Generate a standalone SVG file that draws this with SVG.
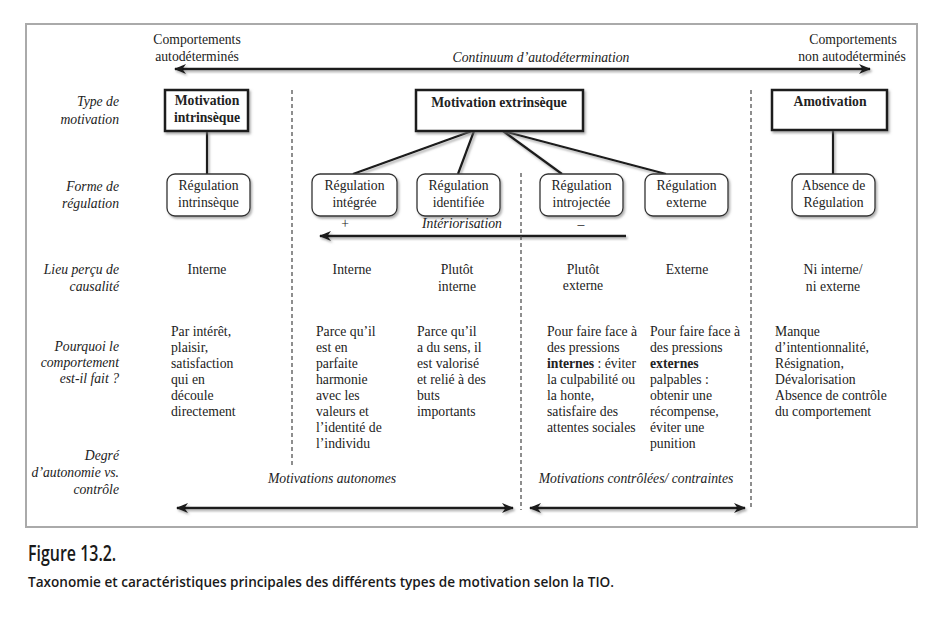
<svg xmlns="http://www.w3.org/2000/svg" width="945" height="617" viewBox="0 0 945 617">
<defs>
<style>
text{font-family:"Liberation Serif","Times New Roman",serif;font-size:13.7px;fill:#222}
.c{text-anchor:middle}
.r{text-anchor:end}
.i{font-style:italic}
.b{font-weight:bold}
.bx{fill:#fff;stroke:#1a1a1a;stroke-width:2.5}
.rb{fill:#fff;stroke:#333;stroke-width:1.3}
.ln{stroke:#1a1a1a;stroke-width:2.2;fill:none}
.ar{stroke:#1a1a1a;stroke-width:2.4;fill:none}
.ds{stroke:#444;stroke-width:1.2;stroke-dasharray:4 3;fill:none}
.cap{font-family:"Open Sans","Liberation Sans",sans-serif;fill:#1a1a1a;font-weight:600}
.fig{font-size:21px}
.sub{font-size:14px}
</style>
<filter id="sh" x="-10%" y="-10%" width="130%" height="140%">
<feDropShadow dx="1.5" dy="2" stdDeviation="1.2" flood-color="#777" flood-opacity="0.6"/>
</filter>
<marker id="ah" viewBox="0 0 12 10" markerWidth="13" markerHeight="10" refX="11" refY="5" orient="auto-start-reverse" markerUnits="userSpaceOnUse">
<path d="M0,0 L12,5 L0,10 L3.5,5 Z" fill="#1a1a1a"/>
</marker>
</defs>
<rect width="945" height="617" fill="#fff"/>
<rect x="26" y="24" width="891" height="503" fill="#fff" stroke="#aaa" stroke-width="2"/>

<g id="header">
<text class="c" x="197" y="44">Comportements</text>
<text class="c" x="197" y="61">autodéterminés</text>
<text class="c" x="853" y="44">Comportements</text>
<text class="c" x="852" y="61">non autodéterminés</text>
<text class="c i" x="541" y="62">Continuum d’autodétermination</text>
</g>

<g id="row-labels">
<text class="r i" x="119" y="106">Type de</text>
<text class="r i" x="119" y="124">motivation</text>
<text class="r i" x="119" y="191">Forme de</text>
<text class="r i" x="119" y="208">régulation</text>
<text class="r i" x="119" y="274">Lieu perçu de</text>
<text class="r i" x="119" y="291">causalité</text>
<text class="r i" x="119" y="351">Pourquoi le</text>
<text class="r i" x="119" y="367">comportement</text>
<text class="r i" x="119" y="383">est-il fait ?</text>
<text class="r i" x="119" y="460">Degré</text>
<text class="r i" x="119" y="477">d’autonomie vs.</text>
<text class="r i" x="119" y="494">contrôle</text>
</g>

<g id="connectors">
<g filter="url(#sh)">
<line class="ar" x1="175" y1="69" x2="870" y2="69" marker-start="url(#ah)" marker-end="url(#ah)"/>
<line class="ln" x1="207" y1="131" x2="207" y2="174" stroke-width="2.5"/>
<line class="ln" x1="833" y1="130" x2="833" y2="174" stroke-width="2.5"/>
<line class="ln" x1="472" y1="131" x2="353" y2="174"/>
<line class="ln" x1="474" y1="131" x2="458" y2="174"/>
<line class="ln" x1="503" y1="131" x2="562" y2="174"/>
<line class="ln" x1="503" y1="131" x2="666" y2="174"/>
<line class="ar" x1="626" y1="236" x2="320" y2="236" marker-end="url(#ah)"/>
<line class="ar" x1="177" y1="508" x2="513" y2="508" marker-start="url(#ah)" marker-end="url(#ah)"/>
<line class="ar" x1="530" y1="508" x2="745" y2="508" marker-start="url(#ah)" marker-end="url(#ah)"/>
</g>
<line class="ds" x1="292" y1="90" x2="292" y2="468" stroke="#666" stroke-width="1.6" stroke-dasharray="3 2.5"/>
<line class="ds" x1="521" y1="173" x2="521" y2="510"/>
<line class="ds" x1="751" y1="90" x2="751" y2="510"/>
</g>

<g id="motivation-intrinseque">
<rect class="bx" x="165" y="90" width="83" height="41" filter="url(#sh)"/>
<text class="c b" x="207" y="104.5">Motivation</text>
<text class="c b" x="207" y="122">intrinsèque</text>
</g>
<g id="motivation-extrinseque">
<rect class="bx" x="416" y="90" width="167" height="41" filter="url(#sh)"/>
<text class="c b" x="499" y="107">Motivation extrinsèque</text>
</g>
<g id="amotivation">
<rect class="bx" x="772" y="90" width="115" height="40" filter="url(#sh)"/>
<text class="c b" x="830" y="106">Amotivation</text>
</g>

<g id="regulation-intrinseque">
<rect class="rb" x="167" y="174" width="83" height="42" rx="8" filter="url(#sh)"/>
<text class="c" x="208.5" y="190">Régulation</text>
<text class="c" x="208.5" y="207">intrinsèque</text>
</g>
<g id="regulation-integree">
<rect class="rb" x="312" y="174" width="85" height="42" rx="8" filter="url(#sh)"/>
<text class="c" x="354.5" y="190">Régulation</text>
<text class="c" x="354.5" y="207">intégrée</text>
</g>
<g id="regulation-identifiee">
<rect class="rb" x="417" y="174" width="83" height="42" rx="8" filter="url(#sh)"/>
<text class="c" x="458.5" y="190">Régulation</text>
<text class="c" x="458.5" y="207">identifiée</text>
</g>
<g id="regulation-introjectee">
<rect class="rb" x="540" y="174" width="83" height="42" rx="8" filter="url(#sh)"/>
<text class="c" x="581.5" y="190">Régulation</text>
<text class="c" x="581.5" y="207">introjectée</text>
</g>
<g id="regulation-externe">
<rect class="rb" x="645" y="174" width="83" height="42" rx="8" filter="url(#sh)"/>
<text class="c" x="686.5" y="190">Régulation</text>
<text class="c" x="686.5" y="207">externe</text>
</g>
<g id="absence-regulation">
<rect class="rb" x="792" y="174" width="83" height="42" rx="8" filter="url(#sh)"/>
<text class="c" x="833.5" y="190">Absence de</text>
<text class="c" x="833.5" y="207">Régulation</text>
</g>

<g id="interiorisation">
<text class="c" x="345" y="228">+</text>
<text class="c i" x="462" y="228">Intériorisation</text>
<text class="c" x="581" y="229">–</text>
</g>

<g id="lieu">
<text class="c" x="207" y="274">Interne</text>
<text class="c" x="352" y="274">Interne</text>
<text class="c" x="457" y="274">Plutôt</text>
<text class="c" x="457" y="291">interne</text>
<text class="c" x="583" y="274">Plutôt</text>
<text class="c" x="583" y="290">externe</text>
<text class="c" x="687" y="274">Externe</text>
<text class="c" x="833" y="274">Ni interne/</text>
<text class="c" x="833" y="291">ni externe</text>
</g>

<g id="pourquoi">
<text x="171" y="336">Par intérêt,</text>
<text x="171" y="352">plaisir,</text>
<text x="171" y="368">satisfaction</text>
<text x="171" y="384">qui en</text>
<text x="171" y="400">découle</text>
<text x="171" y="416">directement</text>

<text x="316" y="336">Parce qu’il</text>
<text x="316" y="352">est en</text>
<text x="316" y="368">parfaite</text>
<text x="316" y="384">harmonie</text>
<text x="316" y="400">avec les</text>
<text x="316" y="416">valeurs et</text>
<text x="316" y="432">l’identité de</text>
<text x="316" y="448">l’individu</text>

<text x="417" y="336">Parce qu’il</text>
<text x="417" y="352">a du sens, il</text>
<text x="417" y="368">est valorisé</text>
<text x="417" y="384">et relié à des</text>
<text x="417" y="400">buts</text>
<text x="417" y="416">importants</text>

<text x="547" y="336">Pour faire face à</text>
<text x="547" y="352">des pressions</text>
<text x="547" y="368"><tspan class="b">internes</tspan> : éviter</text>
<text x="547" y="384">la culpabilité ou</text>
<text x="547" y="400">la honte,</text>
<text x="547" y="416">satisfaire des</text>
<text x="547" y="432">attentes sociales</text>

<text x="650" y="336">Pour faire face à</text>
<text x="650" y="352">des pressions</text>
<text x="650" y="368" class="b">externes</text>
<text x="650" y="384">palpables :</text>
<text x="650" y="400">obtenir une</text>
<text x="650" y="416">récompense,</text>
<text x="650" y="432">éviter une</text>
<text x="650" y="448">punition</text>

<text x="775" y="336">Manque</text>
<text x="775" y="352">d’intentionnalité,</text>
<text x="775" y="368">Résignation,</text>
<text x="775" y="384">Dévalorisation</text>
<text x="775" y="400">Absence de contrôle</text>
<text x="775" y="416">du comportement</text>
</g>

<g id="degre">
<text class="c i" x="332" y="483">Motivations autonomes</text>
<text class="c i" x="636" y="483">Motivations contrôlées/ contraintes</text>
</g>

<g id="caption">
<text class="cap fig" x="0" y="0" transform="translate(28,561) scale(0.76,1)">Figure 13.2.</text>
<text class="cap sub" x="28" y="587" textLength="586" lengthAdjust="spacingAndGlyphs">Taxonomie et caractéristiques principales des différents types de motivation selon la TIO.</text>
</g>
</svg>
